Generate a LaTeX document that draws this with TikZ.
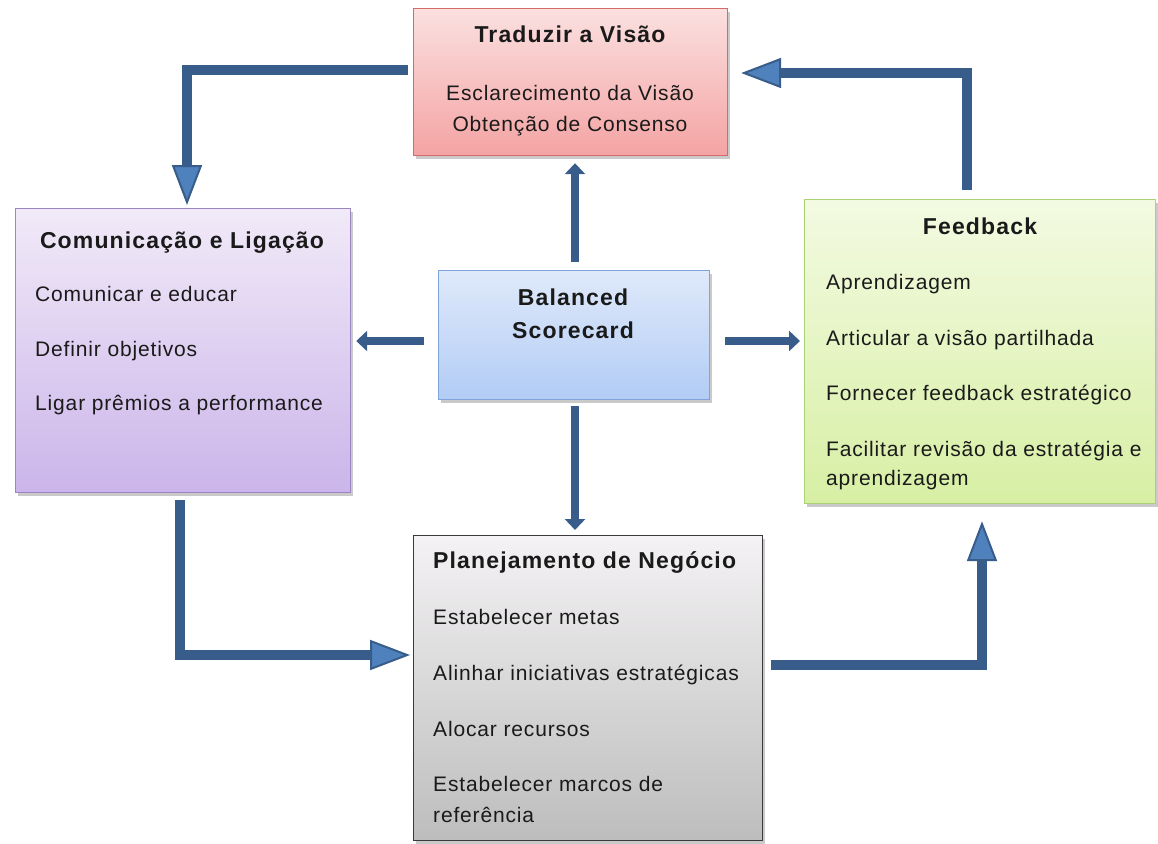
\documentclass[tikz,border=0pt]{standalone}
\usepackage{fontspec}
\setmainfont{Liberation Sans}[LetterSpace=4,BoldFeatures={LetterSpace=5}]
\usetikzlibrary{arrows.meta,shadows,calc}

\definecolor{txt}{HTML}{1A1A1A}
\definecolor{arrowblue}{HTML}{385D8A}
\definecolor{headblue}{HTML}{4F81BD}
% Panel palettes (border, top, bottom)
\definecolor{redB}{HTML}{D46A6A}
\definecolor{redT}{HTML}{FBE0E0}
\definecolor{redU}{HTML}{F4A3A3}
\definecolor{purB}{HTML}{9C86C2}
\definecolor{purT}{HTML}{F1EAF8}
\definecolor{purU}{HTML}{CBB5EA}
\definecolor{bluB}{HTML}{7FA3DA}
\definecolor{bluT}{HTML}{DFE9FA}
\definecolor{bluU}{HTML}{B2CCF5}
\definecolor{grnB}{HTML}{ABD175}
\definecolor{grnT}{HTML}{F3FAE2}
\definecolor{grnU}{HTML}{D7EFA4}
\definecolor{gryB}{HTML}{3A3A3A}
\definecolor{gryT}{HTML}{F4F2F4}
\definecolor{gryU}{HTML}{BDBDBD}

\begin{document}
\begin{tikzpicture}[x=1pt,y=-1pt,
  panel/.style={draw, line width=1.2pt, anchor=north west, inner sep=0pt,
    drop shadow={shadow xshift=2pt,shadow yshift=-3pt,opacity=0.35,fill=black!60}},
  ttl/.style={font=\fontsize{23}{27}\selectfont\bfseries, text=txt, anchor=base, inner sep=0pt},
  itm/.style={font=\fontsize{21}{25}\selectfont, text=txt, anchor=base west, inner sep=0pt},
  ctr/.style={itm, anchor=base},
  bigarrow/.style={draw=arrowblue, line width=10pt, line join=miter,
    -{Triangle[width=30pt,length=40pt,line width=2pt,fill=headblue]}},
  smallarrow/.style={draw=arrowblue, line width=8pt,
    -{Triangle[width=20pt,length=11pt]}}]
\useasboundingbox (0,0) rectangle (1158,843);

% ---- panels ----
\node[panel, draw=redB, top color=redT, bottom color=redU,
  minimum width=314pt, minimum height=147pt] (trad) at (413,8) {};
\node[panel, draw=purB, top color=purT, bottom color=purU,
  minimum width=335pt, minimum height=284pt] (com) at (15,208) {};
\node[panel, draw=bluB, top color=bluT, bottom color=bluU,
  minimum width=271pt, minimum height=129pt] (bsc) at (438,270) {};
\node[panel, draw=grnB, top color=grnT, bottom color=grnU,
  minimum width=351pt, minimum height=304pt] (fb) at (804,199) {};
\node[panel, draw=gryB, top color=gryT, bottom color=gryU,
  minimum width=349pt, minimum height=305pt] (plan) at (413,535) {};

% ---- texts ----
\node[ttl] (tradT) at (570,42) {Traduzir a Visão};
\node[ctr] (trad1) at (570,100) {Esclarecimento da Visão};
\node[ctr] (trad2) at (570,131) {Obtenção de Consenso};

\node[ttl] (comT) at (182,248) {Comunicação e Ligação};
\node[itm] (com1) at (35,301) {Comunicar e educar};
\node[itm] (com2) at (35,356) {Definir objetivos};
\node[itm] (com3) at (35,410) {Ligar prêmios a performance};

\node[ttl] (bsc1) at (573,305) {Balanced};
\node[ttl] (bsc2) at (573,338) {Scorecard};

\node[ttl] (fbT) at (980,234) {Feedback};
\node[itm] (fb1) at (826,289) {Aprendizagem};
\node[itm] (fb2) at (826,345) {Articular a visão partilhada};
\node[itm] (fb3) at (826,400) {Fornecer feedback estratégico};
\node[itm] (fb4) at (826,456) {Facilitar revisão da estratégia e};
\node[itm] (fb5) at (826,485) {aprendizagem};

\node[ttl, anchor=base west] (planT) at (433,568) {Planejamento de Negócio};
\node[itm] (plan1) at (433,624) {Estabelecer metas};
\node[itm] (plan2) at (433,680) {Alinhar iniciativas estratégicas};
\node[itm] (plan3) at (433,736) {Alocar recursos};
\node[itm] (plan4) at (433,791) {Estabelecer marcos de};
\node[itm] (plan5) at (433,822) {referência};

% ---- outer loop (thick elbow arrows) ----
\coordinate (c1) at (187,70);
\coordinate (c2) at (967,73);
\coordinate (c3) at (180,655);
\coordinate (c4) at (982,665);
\draw[bigarrow] ($(trad.west |- c1)+(-5,0)$) -- (c1) -- ($(c1 |- com.north)+(0,-3)$);
\draw[bigarrow] ($(c2 |- fb.north)+(0,-9)$) -- (c2) -- ($(trad.east |- c2)+(13,0)$);
\draw[bigarrow] ($(c3 |- com.south)+(0,7)$) -- (c3) -- ($(plan.west |- c3)+(-3,0)$);
\draw[bigarrow] ($(plan.east |- c4)+(8,0)$) -- (c4) -- ($(c4 |- fb.south)+(0,17)$);

% ---- spokes from the centre ----
\coordinate (mid) at (0,341);
\coordinate (vx) at (575,0);
\draw[smallarrow] ($(bsc.west |- mid)+(-14,0)$) -- ($(com.east |- mid)+(5,0)$);
\draw[smallarrow] ($(bsc.east |- mid)+(15,0)$) -- ($(fb.west |- mid)+(-4,0)$);
\draw[smallarrow] ($(vx |- bsc.north)+(0,-8)$) -- ($(vx |- trad.south)+(0,7)$);
\draw[smallarrow] ($(vx |- bsc.south)+(0,6)$) -- ($(vx |- plan.north)+(0,-5)$);
\end{tikzpicture}
\end{document}
